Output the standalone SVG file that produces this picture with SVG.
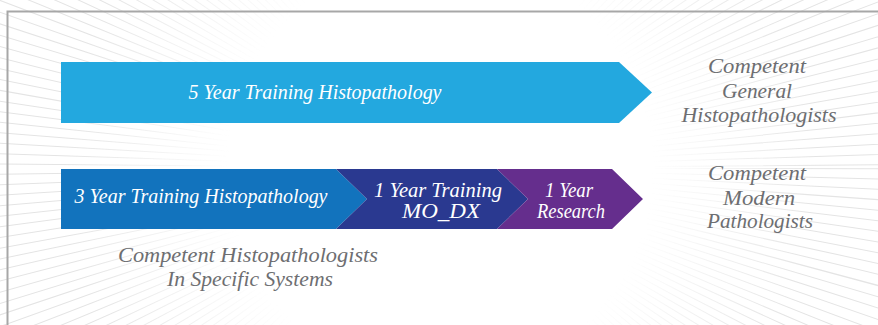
<svg xmlns="http://www.w3.org/2000/svg" width="878" height="325" viewBox="0 0 878 325">
<style>
text{font-family:'Liberation Serif','Times New Roman',serif;font-style:italic;text-anchor:middle}
.in{fill:#ffffff;font-size:20px}
.out{fill:#6d6e71;font-size:22px}
</style>
<defs>
<radialGradient id="fade" cx="440" cy="168" r="470" gradientUnits="userSpaceOnUse">
<stop offset="0" stop-color="#000"/>
<stop offset="0.45" stop-color="#000"/>
<stop offset="0.8" stop-color="#fff"/>
<stop offset="1" stop-color="#fff"/>
</radialGradient>
<mask id="rayMask" maskUnits="userSpaceOnUse" x="0" y="0" width="878" height="325">
<rect x="0" y="0" width="878" height="325" fill="url(#fade)"/>
</mask>
</defs>
<rect x="0" y="0" width="878" height="325" fill="#ffffff"/>
<g id="background" mask="url(#rayMask)">
<circle cx="440" cy="168" r="300" fill="none" stroke="#e4e4e4" stroke-width="600" stroke-dasharray="1 6.1"/>
</g>
<path d="M7.5 325 V11.5 H878" fill="none" stroke="#a7a7a7" stroke-width="2"/>
<g id="connectors"/>
<g id="n-5year">
<polygon points="61,62 619,62 652,92.5 619,123 61,123" fill="#23a8df"/>
<text class="in" x="315" y="99" textLength="253" lengthAdjust="spacingAndGlyphs">5 Year Training Histopathology</text>
</g>
<g id="n-3year">
<polygon points="61,169 336,169 367,199 336,229 61,229" fill="#1273bd"/>
<text class="in" x="201" y="203" textLength="253" lengthAdjust="spacingAndGlyphs">3 Year Training Histopathology</text>
</g>
<g id="n-1year-modx">
<polygon points="336,169 497,169 528,199 497,229 336,229 367,199" fill="#2a3990"/>
<text class="in" x="438" y="197" textLength="128" lengthAdjust="spacingAndGlyphs">1 Year Training</text>
<text class="in" x="441" y="218" textLength="78" lengthAdjust="spacingAndGlyphs">MO_DX</text>
</g>
<g id="n-research">
<polygon points="497,169 612,169 643,199 612,229 497,229 528,199" fill="#652e8d"/>
<text class="in" x="569" y="197" textLength="48" lengthAdjust="spacingAndGlyphs">1 Year</text>
<text class="in" x="571" y="218" textLength="68" lengthAdjust="spacingAndGlyphs">Research</text>
</g>
<g id="n-general">
<text class="out" x="757" y="73" textLength="98" lengthAdjust="spacingAndGlyphs">Competent</text>
<text class="out" x="757" y="98" textLength="70" lengthAdjust="spacingAndGlyphs">General</text>
<text class="out" x="759" y="122" textLength="155" lengthAdjust="spacingAndGlyphs">Histopathologists</text>
</g>
<g id="n-modern">
<text class="out" x="757" y="180" textLength="98" lengthAdjust="spacingAndGlyphs">Competent</text>
<text class="out" x="759" y="205" textLength="72" lengthAdjust="spacingAndGlyphs">Modern</text>
<text class="out" x="760" y="228" textLength="106" lengthAdjust="spacingAndGlyphs">Pathologists</text>
</g>
<g id="n-specific">
<text class="out" x="248" y="262" textLength="260" lengthAdjust="spacingAndGlyphs">Competent Histopathologists</text>
<text class="out" x="250" y="286" textLength="166" lengthAdjust="spacingAndGlyphs">In Specific Systems</text>
</g>
</svg>
